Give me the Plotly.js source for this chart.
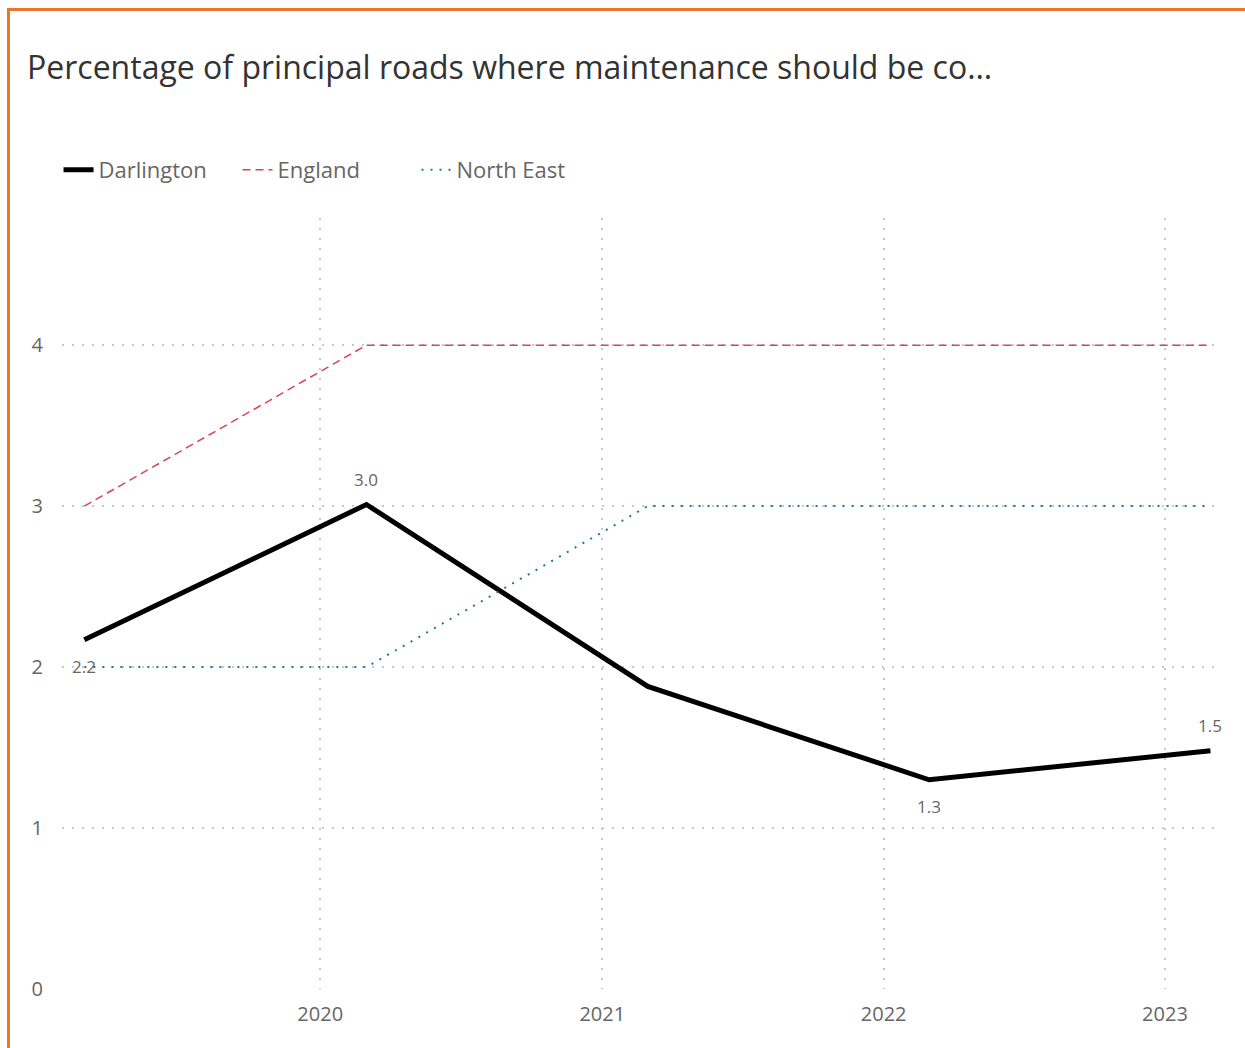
<!DOCTYPE html>
<html>
<head>
<meta charset="utf-8">
<script src="https://cdn.plot.ly/plotly-3.0.1.min.js"></script>
<style>
  html, body { margin: 0; padding: 0; background: #fff; }
  #chart { position: absolute; left: 0; top: 0; width: 1245px; height: 1048px; }
  #frame { position: absolute; left: 7px; top: 8px; width: 1240px; height: 1045px;
           border-left: 3px solid #E8782A; border-top: 3px solid #E8782A; pointer-events: none; z-index: 10; }
</style>
</head>
<body>
<div id="chart"></div>
<div id="frame"></div>
<script>
const dates = ['2019-03-01', '2020-03-01', '2021-03-01', '2022-03-01', '2023-03-01'];
const darlington = [2.17, 3.01, 1.88, 1.30, 1.48];
const darlingtonLabels = ['2.2', '3.0', '', '1.3', '1.5'];
const labelSide = [-1, 1, 0, -1, 1];
const england = [3, 4, 4, 4, 4];
const northEast = [2, 2, 3, 3, 3];
const yTicks = [0, 1, 2, 3, 4];
const xTickDates = ['2020-01-01', '2021-01-01', '2022-01-01', '2023-01-01'];
const xTickLabels = ['2020', '2021', '2022', '2023'];

const font = '"Open Sans", "Noto Sans", sans-serif';

const traces = [
  {
    x: dates, y: darlington, name: 'Darlington', type: 'scatter', mode: 'lines',
    line: { color: '#000000', width: 5 }
  },
  {
    x: dates, y: england, name: 'England', type: 'scatter', mode: 'lines',
    line: { color: '#D64550', width: 1.5, dash: '8px,5px' }
  },
  {
    x: dates, y: northEast, name: 'North East', type: 'scatter', mode: 'lines',
    line: { color: '#1B7A9A', width: 2, dash: '2px,7px' }
  }
];

const annotations = [];
darlingtonLabels.forEach((t, i) => {
  if (!t) return;
  annotations.push({
    x: dates[i], y: darlington[i], xref: 'x', yref: 'y',
    text: t, showarrow: false,
    yshift: labelSide[i] > 0 ? 25 : -27,
    font: { family: font, size: 17, color: '#666666' }
  });
});

const layout = {
  width: 1245, height: 1048,
  paper_bgcolor: '#ffffff', plot_bgcolor: '#ffffff',
  margin: { l: 62, r: 23, t: 218, b: 59 },
  font: { family: font, color: '#666666' },
  title: {
    text: 'Percentage of principal roads where maintenance should be co…',
    font: { family: font, size: 32, color: '#333333' },
    x: 27 / 1245, xref: 'container', xanchor: 'left', yanchor: 'middle',
    y: 1 - 68 / 1048, yref: 'container'
  },
  showlegend: true,
  legend: {
    orientation: 'h', x: -0.003, xanchor: 'left', y: 1 + 48 / 771, yanchor: 'middle',
    font: { family: font, size: 22, color: '#666666' },
    traceorder: 'normal', itemwidth: 30, entrywidth: 134
  },
  annotations: annotations,
  xaxis: {
    type: 'date',
    range: ['2019-01-31', '2023-03-16'],
    tickvals: xTickDates, ticktext: xTickLabels,
    showgrid: true, gridcolor: '#c8c8c8', griddash: '2px,8px', gridwidth: 1.5,
    zeroline: false, showline: false, ticks: '',
    tickfont: { family: font, size: 20, color: '#666666' },
    ticklabelstandoff: 11
  },
  yaxis: {
    range: [0, 4.79],
    tickvals: yTicks,
    showgrid: true, gridcolor: '#c8c8c8', griddash: '2px,8px', gridwidth: 1.5,
    zeroline: false, showline: false, ticks: '',
    tickfont: { family: font, size: 20, color: '#666666' },
    ticklabelstandoff: 18
  },
  hovermode: 'closest'
};

Plotly.newPlot('chart', traces, layout, { displayModeBar: false, responsive: false });
</script>
</body>
</html>
